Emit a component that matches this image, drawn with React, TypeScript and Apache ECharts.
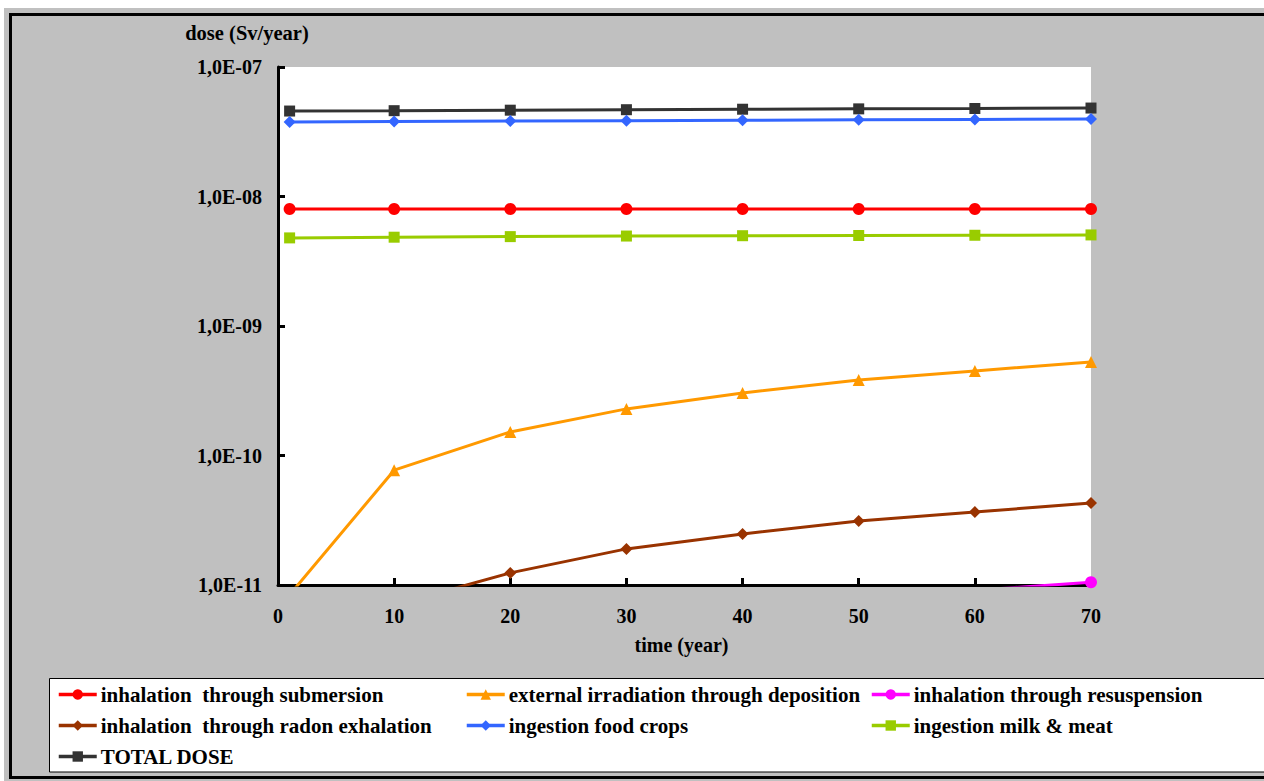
import React, { useEffect, useRef } from "react";
import * as echarts from "echarts";

const years = [1, 10, 20, 30, 40, 50, 60, 70];

const seriesNames = [
  "inhalation  through submersion",
  "external irradiation through deposition",
  "inhalation through resuspension",
  "inhalation  through radon exhalation",
  "ingestion food crops",
  "ingestion milk & meat",
  "TOTAL DOSE",
];

const submersion = [8.0e-9, 8.0e-9, 8.0e-9, 8.0e-9, 8.0e-9, 8.0e-9, 8.0e-9, 8.0e-9];
const deposition = [8.4e-12, 7.7e-11, 1.52e-10, 2.29e-10, 3.04e-10, 3.83e-10, 4.5e-10, 5.27e-10];
const resuspension = [1.5e-13, 1.5e-12, 3.0e-12, 4.6e-12, 6.1e-12, 7.6e-12, 9.1e-12, 1.05e-11];
const radon = [6.0e-13, 7.0e-12, 1.24e-11, 1.9e-11, 2.48e-11, 3.12e-11, 3.66e-11, 4.3e-11];
const foodCrops = [3.76e-8, 3.79e-8, 3.82e-8, 3.85e-8, 3.88e-8, 3.91e-8, 3.93e-8, 3.96e-8];
const milkMeat = [4.79e-9, 4.85e-9, 4.9e-9, 4.95e-9, 4.98e-9, 5.0e-9, 5.02e-9, 5.05e-9];
const totalDose = [4.57e-8, 4.6e-8, 4.64e-8, 4.68e-8, 4.72e-8, 4.75e-8, 4.78e-8, 4.82e-8];

const yTickLabels = ["1,0E-11", "1,0E-10", "1,0E-09", "1,0E-08", "1,0E-07"];

const colors = ["#FF0000", "#FF9900", "#FF00FF", "#993300", "#3366FF", "#99CC00", "#333333"];
const symbols = ["circle", "triangle", "circle", "diamond", "diamond", "rect", "rect"];
const symbolSizes = [12, 12, 12, 12, 12, 11, 11];
const values = [submersion, deposition, resuspension, radon, foodCrops, milkMeat, totalDose];

const legendPos = [
  [57, 684],
  [465, 684],
  [870, 684],
  [57, 715],
  [465, 715],
  [870, 715],
  [57, 746],
];

const FONT = "'Liberation Serif', 'Times New Roman', serif";

export default function App() {
  const ref = useRef<HTMLDivElement>(null);

  useEffect(() => {
    const chart = echarts.init(ref.current!, undefined, { renderer: "svg" });
    const series = seriesNames.map((name, i) => ({
      name,
      type: "line",
      data: years.map((y, j) => [y, values[i][j]]),
      symbol: symbols[i],
      symbolSize: symbolSizes[i],
      showAllSymbol: true,
      clip: true,
      lineStyle: { color: colors[i], width: 3 },
      itemStyle: { color: colors[i] },
      z: 10 - i,
    }));

    const legends = seriesNames.map((name, i) => ({
      data: [name],
      left: legendPos[i][0],
      top: legendPos[i][1],
      itemWidth: 38,
      itemHeight: 13,
      itemGap: 5,
      padding: 0,
      lineStyle: { width: 3.5 },
      textStyle: { fontFamily: FONT, fontSize: 21, fontWeight: "bold", color: "#000", padding: [0, 0, 0, -1] },
    }));

    chart.setOption({
      animation: false,
      backgroundColor: "#c0c0c0",
      textStyle: { fontFamily: FONT },
      grid: {
        left: 278,
        top: 67,
        right: 173,
        bottom: 196,
        show: true,
        backgroundColor: "#ffffff",
        borderWidth: 0,
      },
      legend: legends,
      xAxis: {
        type: "value",
        min: 0,
        max: 70,
        interval: 10,
        name: "time (year)",
        nameLocation: "middle",
        nameGap: 50,
        nameTextStyle: { fontFamily: FONT, fontSize: 20, fontWeight: "bold", color: "#000", padding: [0, 6, 0, 0] },
        axisLine: { show: true, onZero: false, lineStyle: { color: "#000", width: 3 } },
        axisTick: { show: true, inside: true, length: 7, lineStyle: { color: "#000", width: 3 } },
        axisLabel: { fontFamily: FONT, fontSize: 20, fontWeight: "bold", color: "#000", margin: 21 },
        splitLine: { show: false },
      },
      yAxis: {
        type: "log",
        logBase: 10,
        min: 1e-11,
        max: 1e-7,
        name: "dose (Sv/year)",
        nameLocation: "end",
        nameGap: 24,
        nameTextStyle: { fontFamily: FONT, fontSize: 20.5, fontWeight: "bold", color: "#000", align: "center", padding: [0, 62, 0, 0] },
        axisLine: { show: true, lineStyle: { color: "#000", width: 3 } },
        axisTick: { show: true, inside: true, length: 7, lineStyle: { color: "#000", width: 3 } },
        axisLabel: {
          fontFamily: FONT,
          fontSize: 20,
          fontWeight: "bold",
          color: "#000",
          margin: 16,
          formatter: (v: number) => {
            const idx = Math.round(Math.log10(v)) + 11;
            return yTickLabels[idx] ?? "";
          },
        },
        splitLine: { show: false },
        minorTick: { show: false },
      },
      graphic: [
        {
          type: "rect",
          z: 1,
          shape: { x: 49.5, y: 678.5, width: 1300, height: 93.5 },
          style: { fill: "#ffffff", stroke: "#000000", lineWidth: 1 },
          silent: true,
        },
        {
          type: "rect",
          z: 1,
          shape: { x: 10.5, y: 14.5, width: 1300, height: 763 },
          style: { fill: "none", stroke: "#000000", lineWidth: 3 },
          silent: true,
        },
        {
          type: "rect",
          z: 100,
          shape: { x: 0, y: 0, width: 1264, height: 8 },
          style: { fill: "#ffffff" },
          silent: true,
        },
        {
          type: "rect",
          z: 100,
          shape: { x: 0, y: 0, width: 4, height: 781 },
          style: { fill: "#ffffff" },
          silent: true,
        },
      ],
      series,
    });
    return () => chart.dispose();
  }, []);

  return (
    <div
      ref={ref}
      style={{ position: "fixed", left: 0, top: 0, width: 1264, height: 781 }}
    />
  );
}
